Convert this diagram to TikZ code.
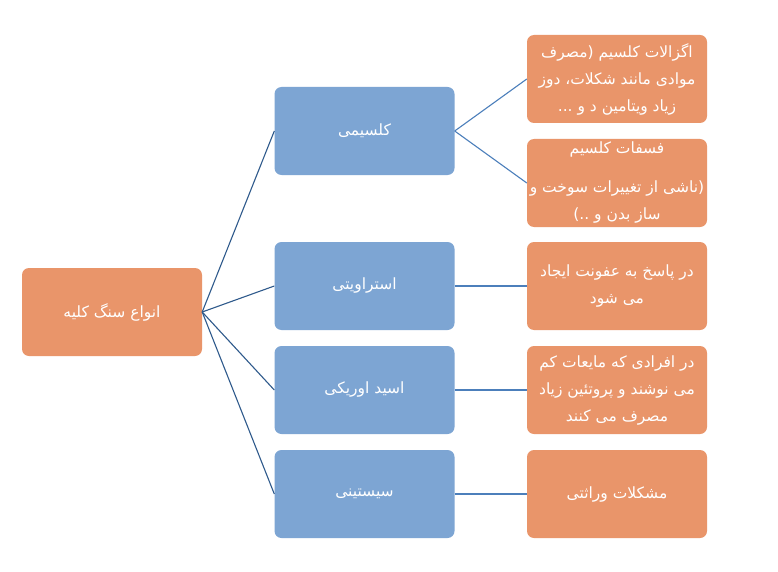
\documentclass[tikz,border=0pt]{standalone}
\usepackage{fontspec}
\newfontfamily\fa[Script=Arabic]{DejaVu Sans}
\TeXXeTstate=1
\newcommand{\fat}[1]{\beginR #1\endR}
\definecolor{orbox}{HTML}{E9956A}
\definecolor{blbox}{HTML}{7DA5D3}
\definecolor{lnleft}{HTML}{2F5A8C}
\definecolor{lnright}{HTML}{4C7FBB}
\tikzset{
  boxbase/.style={rounded corners=7pt, minimum width=180pt, minimum height=88pt, inner sep=0pt,
    text=white, align=center, font=\fa\fontsize{15.5}{27}\selectfont},
  orangebox/.style={boxbase, fill=orbox},
  bluebox/.style={boxbase, fill=blbox},
  leftline/.style={draw=lnleft, line width=1.1pt},
  rightline/.style={draw=lnright, line width=1.1pt},
}
\begin{document}
\begin{tikzpicture}[x=1pt,y=-1pt]
\useasboundingbox[fill=white] (0,0) rectangle (778,572);
\node[orangebox] (root) at (112,312) {\fat{انواع سنگ کلیه}};
\node[bluebox] (b1) at (364.5,131) {\fat{کلسیمی}};
\node[bluebox] (b2) at (364.5,286) {\fat{استراویتی}};
\node[bluebox] (b3) at (364.5,390) {\fat{اسید اوریکی}};
\node[bluebox] (b4) at (364.5,494) {\fat{سیستینی}};
\node[orangebox] (o1) at (617,79) {\fat{اگزالات کلسیم (مصرف}\\\fat{موادی مانند شکلات، دوز}\\\fat{زیاد ویتامین د و ...}};
\node[orangebox] (o2) at (617,183) {\fat{فسفات کلسیم}\\[12pt]\fat{(ناشی از تغییرات سوخت و}\\\fat{ساز بدن و ..)}};
\node[orangebox] (o3) at (617,286) {\fat{در پاسخ به عفونت ایجاد}\\\fat{می شود}};
\node[orangebox] (o4) at (617,390) {\fat{در افرادی که مایعات کم}\\\fat{می نوشند و پروتئین زیاد}\\\fat{مصرف می کنند}};
\node[orangebox] (o5) at (617,494) {\fat{مشکلات وراثتی}};
\draw[leftline] (root.east) -- (b1.west);
\draw[leftline] (root.east) -- (b2.west);
\draw[leftline] (root.east) -- (b3.west);
\draw[leftline] (root.east) -- (b4.west);
\draw[rightline] (b1.east) -- (o1.west);
\draw[rightline] (b1.east) -- (o2.west);
\draw[rightline] (b2.east) -- (o3.west);
\draw[rightline] (b3.east) -- (o4.west);
\draw[rightline] (b4.east) -- (o5.west);
\end{tikzpicture}
\end{document}
